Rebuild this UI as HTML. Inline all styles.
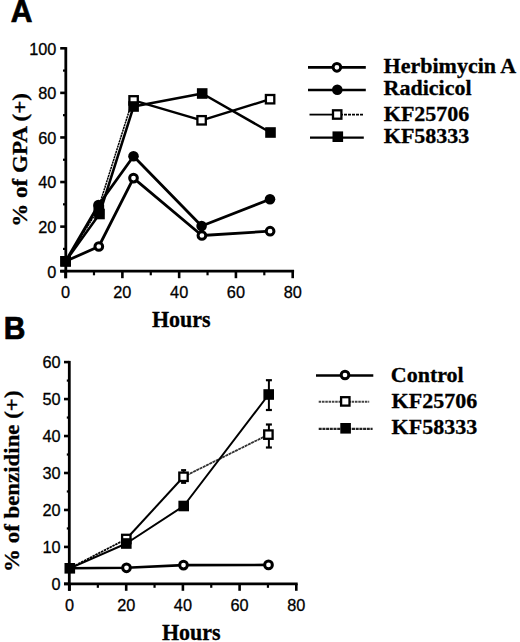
<!DOCTYPE html>
<html><head><meta charset="utf-8"><style>
html,body{margin:0;padding:0;background:#fff;}
body{width:520px;height:642px;overflow:hidden;}
svg{display:block;}
</style></head><body>
<svg width="520" height="642" viewBox="0 0 520 642">
<rect width="520" height="642" fill="#fff"/>
<line x1="65.8" y1="47.1" x2="65.8" y2="278.2" stroke="#000" stroke-width="2.8" />
<line x1="60.2" y1="271.2" x2="294.1" y2="271.2" stroke="#000" stroke-width="2.8" />
<line x1="60.2" y1="271.2" x2="65.8" y2="271.2" stroke="#000" stroke-width="2.6" />
<line x1="60.2" y1="226.62" x2="65.8" y2="226.62" stroke="#000" stroke-width="2.6" />
<line x1="60.2" y1="182.04" x2="65.8" y2="182.04" stroke="#000" stroke-width="2.6" />
<line x1="60.2" y1="137.46" x2="65.8" y2="137.46" stroke="#000" stroke-width="2.6" />
<line x1="60.2" y1="92.88" x2="65.8" y2="92.88" stroke="#000" stroke-width="2.6" />
<line x1="60.2" y1="48.3" x2="65.8" y2="48.3" stroke="#000" stroke-width="2.6" />
<line x1="63" y1="248.91" x2="65.8" y2="248.91" stroke="#000" stroke-width="2.2" />
<line x1="63" y1="204.33" x2="65.8" y2="204.33" stroke="#000" stroke-width="2.2" />
<line x1="63" y1="159.75" x2="65.8" y2="159.75" stroke="#000" stroke-width="2.2" />
<line x1="63" y1="115.17" x2="65.8" y2="115.17" stroke="#000" stroke-width="2.2" />
<line x1="63" y1="70.59" x2="65.8" y2="70.59" stroke="#000" stroke-width="2.2" />
<line x1="65.6" y1="271.2" x2="65.6" y2="278.2" stroke="#000" stroke-width="2.6" />
<line x1="122.38" y1="271.2" x2="122.38" y2="278.2" stroke="#000" stroke-width="2.6" />
<line x1="179.15" y1="271.2" x2="179.15" y2="278.2" stroke="#000" stroke-width="2.6" />
<line x1="235.92" y1="271.2" x2="235.92" y2="278.2" stroke="#000" stroke-width="2.6" />
<line x1="292.7" y1="271.2" x2="292.7" y2="278.2" stroke="#000" stroke-width="2.6" />
<line x1="93.99" y1="271.2" x2="93.99" y2="275.3" stroke="#000" stroke-width="2.2" />
<line x1="150.76" y1="271.2" x2="150.76" y2="275.3" stroke="#000" stroke-width="2.2" />
<line x1="207.54" y1="271.2" x2="207.54" y2="275.3" stroke="#000" stroke-width="2.2" />
<line x1="264.31" y1="271.2" x2="264.31" y2="275.3" stroke="#000" stroke-width="2.2" />
<text x="56.4" y="277.5" font-size="16.3" style="font-family:'Liberation Sans',sans-serif;font-weight:normal" text-anchor="end" stroke="#000" stroke-width="0.3" >0</text>
<text x="56.4" y="232.92" font-size="16.3" style="font-family:'Liberation Sans',sans-serif;font-weight:normal" text-anchor="end" stroke="#000" stroke-width="0.3" >20</text>
<text x="56.4" y="188.34" font-size="16.3" style="font-family:'Liberation Sans',sans-serif;font-weight:normal" text-anchor="end" stroke="#000" stroke-width="0.3" >40</text>
<text x="56.4" y="143.76" font-size="16.3" style="font-family:'Liberation Sans',sans-serif;font-weight:normal" text-anchor="end" stroke="#000" stroke-width="0.3" >60</text>
<text x="56.4" y="99.18" font-size="16.3" style="font-family:'Liberation Sans',sans-serif;font-weight:normal" text-anchor="end" stroke="#000" stroke-width="0.3" >80</text>
<text x="56.4" y="54.6" font-size="16.3" style="font-family:'Liberation Sans',sans-serif;font-weight:normal" text-anchor="end" stroke="#000" stroke-width="0.3" >100</text>
<text x="65.6" y="298.3" font-size="16.3" style="font-family:'Liberation Sans',sans-serif;font-weight:normal" text-anchor="middle" stroke="#000" stroke-width="0.3" >0</text>
<text x="122.38" y="298.3" font-size="16.3" style="font-family:'Liberation Sans',sans-serif;font-weight:normal" text-anchor="middle" stroke="#000" stroke-width="0.3" >20</text>
<text x="179.15" y="298.3" font-size="16.3" style="font-family:'Liberation Sans',sans-serif;font-weight:normal" text-anchor="middle" stroke="#000" stroke-width="0.3" >40</text>
<text x="235.92" y="298.3" font-size="16.3" style="font-family:'Liberation Sans',sans-serif;font-weight:normal" text-anchor="middle" stroke="#000" stroke-width="0.3" >60</text>
<text x="292.7" y="298.3" font-size="16.3" style="font-family:'Liberation Sans',sans-serif;font-weight:normal" text-anchor="middle" stroke="#000" stroke-width="0.3" >80</text>
<text transform="translate(181.2,327.2) scale(1,1.08)" font-size="22" style="font-family:'Liberation Serif',serif;font-weight:bold" text-anchor="middle" stroke="#000" stroke-width="0.3">Hours</text>
<text transform="translate(26.9,159.9) rotate(-90) scale(1.05,1)" font-size="22" stroke="#000" stroke-width="0.3" style="font-family:'Liberation Serif',serif;font-weight:bold" text-anchor="middle">% of GPA (+)</text>
<text transform="translate(10.7,22.4) scale(1,1.05)" font-size="30" stroke="#000" stroke-width="0.7" style="font-family:'Liberation Sans',sans-serif;font-weight:bold">A</text>
<polyline points="65.6,261.3 98.8,246.5 133.5,178.1 201.9,235.5 270.1,231.2" fill="none" stroke="#000" stroke-width="2.8" stroke-linejoin="round" />
<polyline points="65.6,261.3 98.5,205 133.5,156.3 201.6,226 270,199.2" fill="none" stroke="#000" stroke-width="2.8" stroke-linejoin="round" />
<polyline points="65.6,261.3 97.8,210 132.5,100.4" fill="none" stroke="#000" stroke-width="1.5" stroke-linejoin="round" stroke-dasharray="2.2,0.6"/>
<polyline points="133.6,100.4 201.6,120.3 270.1,99.2" fill="none" stroke="#000" stroke-width="2.4" stroke-linejoin="round" />
<polyline points="65.6,261.3 99.5,214 133.6,106.5 202.2,93.5 270.5,132.5" fill="none" stroke="#000" stroke-width="2.5" stroke-linejoin="round" />
<rect x="94.6" y="205.8" width="8.4" height="8.4" fill="#fff" stroke="#000" stroke-width="2.3"/>
<rect x="129.4" y="96.2" width="8.4" height="8.4" fill="#fff" stroke="#000" stroke-width="2.3"/>
<rect x="197.4" y="116.1" width="8.4" height="8.4" fill="#fff" stroke="#000" stroke-width="2.3"/>
<rect x="265.9" y="95" width="8.4" height="8.4" fill="#fff" stroke="#000" stroke-width="2.3"/>
<rect x="60.3" y="256" width="10.6" height="10.6" fill="#000"/>
<rect x="94.2" y="208.7" width="10.6" height="10.6" fill="#000"/>
<rect x="128.3" y="101.2" width="10.6" height="10.6" fill="#000"/>
<rect x="196.9" y="88.2" width="10.6" height="10.6" fill="#000"/>
<rect x="265.2" y="127.2" width="10.6" height="10.6" fill="#000"/>
<circle cx="98.8" cy="246.5" r="3.85" fill="#fff" stroke="#000" stroke-width="3"/>
<circle cx="133.5" cy="178.1" r="3.85" fill="#fff" stroke="#000" stroke-width="3"/>
<circle cx="201.9" cy="235.5" r="3.85" fill="#fff" stroke="#000" stroke-width="3"/>
<circle cx="270.1" cy="231.2" r="3.85" fill="#fff" stroke="#000" stroke-width="3"/>
<circle cx="98.5" cy="205" r="5.3" fill="#000"/>
<circle cx="133.5" cy="156.3" r="5.3" fill="#000"/>
<circle cx="201.6" cy="226" r="5.3" fill="#000"/>
<circle cx="270" cy="199.2" r="5.3" fill="#000"/>
<rect x="60.3" y="256" width="10.6" height="10.6" fill="#000"/>
<line x1="308" y1="67.4" x2="365.8" y2="67.4" stroke="#000" stroke-width="2.6" />
<circle cx="336.9" cy="67.3" r="3.85" fill="#fff" stroke="#000" stroke-width="3"/>
<line x1="308" y1="90" x2="365.8" y2="90" stroke="#000" stroke-width="2.6" />
<circle cx="337.3" cy="89.8" r="5.3" fill="#000"/>
<line x1="309.5" y1="114.6" x2="340" y2="114.6" stroke="#000" stroke-width="1.8" />
<line x1="340" y1="114.6" x2="363" y2="114.6" stroke="#000" stroke-width="1.8" stroke-dasharray="3,1"/>
<rect x="333" y="110.3" width="8.4" height="8.4" fill="#fff" stroke="#000" stroke-width="2.3"/>
<line x1="310" y1="137.6" x2="363.8" y2="137.6" stroke="#000" stroke-width="2.2" />
<rect x="332.5" y="131.4" width="10.6" height="10.6" fill="#000"/>
<text x="383.6" y="73.4" font-size="22" style="font-family:'Liberation Serif',serif;font-weight:bold" text-anchor="start" stroke="#000" stroke-width="0.3" >Herbimycin A</text>
<text x="383.6" y="95.4" font-size="22" style="font-family:'Liberation Serif',serif;font-weight:bold" text-anchor="start" stroke="#000" stroke-width="0.3" >Radicicol</text>
<text x="383.8" y="120.8" font-size="22" style="font-family:'Liberation Serif',serif;font-weight:bold" text-anchor="start" stroke="#000" stroke-width="0.3" >KF25706</text>
<text x="383.8" y="142.7" font-size="22" style="font-family:'Liberation Serif',serif;font-weight:bold" text-anchor="start" stroke="#000" stroke-width="0.3" >KF58333</text>
<line x1="69.3" y1="360.9" x2="69.3" y2="590.8" stroke="#000" stroke-width="2.8" />
<line x1="64" y1="583.9" x2="297.7" y2="583.9" stroke="#000" stroke-width="2.8" />
<line x1="64" y1="583.9" x2="69.3" y2="583.9" stroke="#000" stroke-width="2.6" />
<line x1="64" y1="546.93" x2="69.3" y2="546.93" stroke="#000" stroke-width="2.6" />
<line x1="64" y1="509.97" x2="69.3" y2="509.97" stroke="#000" stroke-width="2.6" />
<line x1="64" y1="473" x2="69.3" y2="473" stroke="#000" stroke-width="2.6" />
<line x1="64" y1="436.03" x2="69.3" y2="436.03" stroke="#000" stroke-width="2.6" />
<line x1="64" y1="399.07" x2="69.3" y2="399.07" stroke="#000" stroke-width="2.6" />
<line x1="64" y1="362.1" x2="69.3" y2="362.1" stroke="#000" stroke-width="2.6" />
<line x1="66.8" y1="565.42" x2="69.3" y2="565.42" stroke="#000" stroke-width="2.2" />
<line x1="66.8" y1="528.45" x2="69.3" y2="528.45" stroke="#000" stroke-width="2.2" />
<line x1="66.8" y1="491.48" x2="69.3" y2="491.48" stroke="#000" stroke-width="2.2" />
<line x1="66.8" y1="454.52" x2="69.3" y2="454.52" stroke="#000" stroke-width="2.2" />
<line x1="66.8" y1="417.55" x2="69.3" y2="417.55" stroke="#000" stroke-width="2.2" />
<line x1="66.8" y1="380.58" x2="69.3" y2="380.58" stroke="#000" stroke-width="2.2" />
<line x1="69.5" y1="583.9" x2="69.5" y2="590.8" stroke="#000" stroke-width="2.6" />
<line x1="126.2" y1="583.9" x2="126.2" y2="590.8" stroke="#000" stroke-width="2.6" />
<line x1="182.9" y1="583.9" x2="182.9" y2="590.8" stroke="#000" stroke-width="2.6" />
<line x1="239.6" y1="583.9" x2="239.6" y2="590.8" stroke="#000" stroke-width="2.6" />
<line x1="296.3" y1="583.9" x2="296.3" y2="590.8" stroke="#000" stroke-width="2.6" />
<line x1="97.85" y1="583.9" x2="97.85" y2="587.8" stroke="#000" stroke-width="2.2" />
<line x1="154.55" y1="583.9" x2="154.55" y2="587.8" stroke="#000" stroke-width="2.2" />
<line x1="211.25" y1="583.9" x2="211.25" y2="587.8" stroke="#000" stroke-width="2.2" />
<line x1="267.95" y1="583.9" x2="267.95" y2="587.8" stroke="#000" stroke-width="2.2" />
<text x="60.6" y="589.9" font-size="16.3" style="font-family:'Liberation Sans',sans-serif;font-weight:normal" text-anchor="end" stroke="#000" stroke-width="0.3" >0</text>
<text x="60.6" y="552.93" font-size="16.3" style="font-family:'Liberation Sans',sans-serif;font-weight:normal" text-anchor="end" stroke="#000" stroke-width="0.3" >10</text>
<text x="60.6" y="515.97" font-size="16.3" style="font-family:'Liberation Sans',sans-serif;font-weight:normal" text-anchor="end" stroke="#000" stroke-width="0.3" >20</text>
<text x="60.6" y="479" font-size="16.3" style="font-family:'Liberation Sans',sans-serif;font-weight:normal" text-anchor="end" stroke="#000" stroke-width="0.3" >30</text>
<text x="60.6" y="442.03" font-size="16.3" style="font-family:'Liberation Sans',sans-serif;font-weight:normal" text-anchor="end" stroke="#000" stroke-width="0.3" >40</text>
<text x="60.6" y="405.07" font-size="16.3" style="font-family:'Liberation Sans',sans-serif;font-weight:normal" text-anchor="end" stroke="#000" stroke-width="0.3" >50</text>
<text x="60.6" y="368.1" font-size="16.3" style="font-family:'Liberation Sans',sans-serif;font-weight:normal" text-anchor="end" stroke="#000" stroke-width="0.3" >60</text>
<text x="69.5" y="611.3" font-size="16.3" style="font-family:'Liberation Sans',sans-serif;font-weight:normal" text-anchor="middle" stroke="#000" stroke-width="0.3" >0</text>
<text x="126.2" y="611.3" font-size="16.3" style="font-family:'Liberation Sans',sans-serif;font-weight:normal" text-anchor="middle" stroke="#000" stroke-width="0.3" >20</text>
<text x="182.9" y="611.3" font-size="16.3" style="font-family:'Liberation Sans',sans-serif;font-weight:normal" text-anchor="middle" stroke="#000" stroke-width="0.3" >40</text>
<text x="239.6" y="611.3" font-size="16.3" style="font-family:'Liberation Sans',sans-serif;font-weight:normal" text-anchor="middle" stroke="#000" stroke-width="0.3" >60</text>
<text x="296.3" y="611.3" font-size="16.3" style="font-family:'Liberation Sans',sans-serif;font-weight:normal" text-anchor="middle" stroke="#000" stroke-width="0.3" >80</text>
<text transform="translate(191.3,640.2) scale(1,1.08)" font-size="22" style="font-family:'Liberation Serif',serif;font-weight:bold" text-anchor="middle" stroke="#000" stroke-width="0.3">Hours</text>
<text transform="translate(18.9,481.2) rotate(-90) scale(1.04,1)" font-size="22" stroke="#000" stroke-width="0.3" style="font-family:'Liberation Serif',serif;font-weight:bold" text-anchor="middle">% of benzidine (+)</text>
<text transform="translate(3.8,339.0) scale(1,1.05)" font-size="30" stroke="#000" stroke-width="0.7" style="font-family:'Liberation Sans',sans-serif;font-weight:bold">B</text>
<polyline points="69.8,568.3 126.5,567.8 183.5,565.1 268.5,564.9" fill="none" stroke="#000" stroke-width="2.6" stroke-linejoin="round" />
<polyline points="69.8,568.3 126.3,539" fill="none" stroke="#000" stroke-width="1.8" stroke-linejoin="round" stroke-dasharray="2.5,0.7"/>
<polyline points="126.3,539 183.5,476.8" fill="none" stroke="#000" stroke-width="2" stroke-linejoin="round" />
<polyline points="183.5,476.8 268.4,434.6" fill="none" stroke="#333" stroke-width="1.8" stroke-linejoin="round" stroke-dasharray="3,0.6"/>
<polyline points="69.8,568.3 126.3,543.5 183.7,506 268.7,394.5" fill="none" stroke="#000" stroke-width="2" stroke-linejoin="round" />
<line x1="268.9" y1="380.2" x2="268.9" y2="410" stroke="#000" stroke-width="2" />
<line x1="265.9" y1="380.2" x2="271.9" y2="380.2" stroke="#000" stroke-width="2.2" />
<line x1="265.9" y1="410" x2="271.9" y2="410" stroke="#000" stroke-width="2.2" />
<line x1="268.9" y1="424.5" x2="268.9" y2="447.5" stroke="#000" stroke-width="2" />
<line x1="265.9" y1="424.5" x2="271.9" y2="424.5" stroke="#000" stroke-width="2.2" />
<line x1="265.9" y1="447.5" x2="271.9" y2="447.5" stroke="#000" stroke-width="2.2" />
<line x1="183.6" y1="470.2" x2="183.6" y2="482.8" stroke="#000" stroke-width="2" />
<line x1="181.1" y1="470.2" x2="186.1" y2="470.2" stroke="#000" stroke-width="2.2" />
<line x1="181.1" y1="482.8" x2="186.1" y2="482.8" stroke="#000" stroke-width="2.2" />
<circle cx="126.5" cy="567.8" r="3.85" fill="#fff" stroke="#000" stroke-width="3"/>
<circle cx="183.5" cy="565.1" r="3.85" fill="#fff" stroke="#000" stroke-width="3"/>
<circle cx="268.5" cy="564.9" r="3.85" fill="#fff" stroke="#000" stroke-width="3"/>
<rect x="122.1" y="534.8" width="8.4" height="8.4" fill="#fff" stroke="#000" stroke-width="2.3"/>
<rect x="179.3" y="472.6" width="8.4" height="8.4" fill="#fff" stroke="#000" stroke-width="2.3"/>
<rect x="264.2" y="430.4" width="8.4" height="8.4" fill="#fff" stroke="#000" stroke-width="2.3"/>
<rect x="64.5" y="563" width="10.6" height="10.6" fill="#000"/>
<rect x="121" y="538.2" width="10.6" height="10.6" fill="#000"/>
<rect x="178.4" y="500.7" width="10.6" height="10.6" fill="#000"/>
<rect x="263.4" y="389.2" width="10.6" height="10.6" fill="#000"/>
<line x1="316" y1="375.5" x2="373.3" y2="375.5" stroke="#000" stroke-width="2.6" />
<circle cx="345" cy="375" r="3.85" fill="#fff" stroke="#000" stroke-width="3"/>
<line x1="318.7" y1="401.7" x2="369.2" y2="401.7" stroke="#444" stroke-width="2" stroke-dasharray="2.5,0.8"/>
<rect x="341.1" y="397.2" width="8.4" height="8.4" fill="#fff" stroke="#000" stroke-width="2.3"/>
<line x1="318.7" y1="428.8" x2="372.6" y2="428.8" stroke="#222" stroke-width="2.2" stroke-dasharray="3,0.7"/>
<rect x="340.3" y="423" width="10.6" height="10.6" fill="#000"/>
<text x="390.8" y="381.5" font-size="22" style="font-family:'Liberation Serif',serif;font-weight:bold" text-anchor="start" stroke="#000" stroke-width="0.3" >Control</text>
<text x="391.6" y="408" font-size="22" style="font-family:'Liberation Serif',serif;font-weight:bold" text-anchor="start" stroke="#000" stroke-width="0.3" >KF25706</text>
<text x="391.6" y="434" font-size="22" style="font-family:'Liberation Serif',serif;font-weight:bold" text-anchor="start" stroke="#000" stroke-width="0.3" >KF58333</text>
</svg>
</body></html>
